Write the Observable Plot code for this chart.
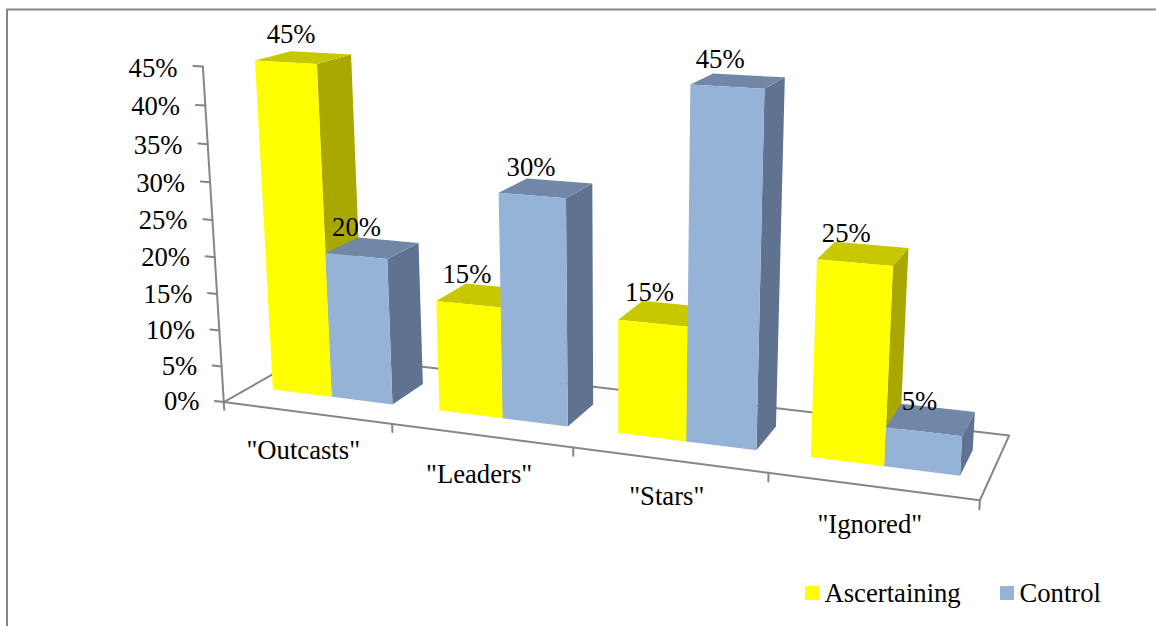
<!DOCTYPE html>
<html>
<head>
<meta charset="utf-8">
<script src="https://cdn.jsdelivr.net/npm/d3@7"></script>
<script src="https://cdn.jsdelivr.net/npm/@observablehq/plot@0.6"></script>
<style>
  html, body { margin: 0; background: #fff; }
  #chart { width: 1156px; height: 626px; overflow: hidden; }
</style>
</head>
<body>
<div id="chart"></div>
<script>
// Survey shares per group
const categories = ['"Outcasts"', '"Leaders"', '"Stars"', '"Ignored"'];
const ascertaining = [45, 15, 15, 25];
const control = [20, 30, 45, 5];
const seriesNames = ["Ascertaining", "Control"];
const valueTicks = [0, 5, 10, 15, 20, 25, 30, 35, 40, 45];

// Face shades of each series
const faceKeys = ["Ascertaining front", "Ascertaining top", "Ascertaining side", "Control front", "Control top", "Control side"];
const faceColors = ["#ffff00", "#c8c800", "#a8a800", "#95b3d7", "#7087a8", "#5f7391"];

// Pinhole camera: (category position, depth 0..1, percent) to page pixels
const camera = [
  [154.5205, 112.0571, -0.6929597, 223.2994],
  [6.93155, -18.07284, -7.531292, 401.5798],
  [-0.03522786, 0.08618574, -0.001124374, 1]
];
const project = ([X, Y, Z]) => {
  const [a, b, c] = camera;
  const w = c[0] * X + c[1] * Y + c[2] * Z + c[3];
  return [
    (a[0] * X + a[1] * Y + a[2] * Z + a[3]) / w,
    (b[0] * X + b[1] * Y + b[2] * Z + b[3]) / w
  ];
};

// Bar footprint inside a category slot and inside the floor's depth
const gap = 0.1375;
const barWidth = (1 - 2 * gap) / 2;
const depthFront = 0.3;
const depthBack = 0.7;

// Paths in world space, each flattened to rows for a line mark
const rows = (id, world, extra = {}) =>
  world.map((p) => {
    const [x, y] = project(p);
    return {id, x, y, ...extra};
  });

const floorLines = [
  ...rows("floor", [[0, 0, 0], [4, 0, 0], [4, 1, 0], [0, 1, 0], [0, 0, 0]]),
  ...rows("axis", [[0, 0, 0], [0, 0, 45]]),
  ...d3.range(5).flatMap((i) => rows(`xtick${i}`, [[i, 0, 0], [i, 0, -1.1]])),
  ...valueTicks.flatMap((v) => rows(`ytick${v}`, [[0, 0, v], [-0.055, 0, v]]))
];

// Bars go left to right, so nearer ones paint over farther ones
const faces = [];
categories.forEach((_, i) => {
  [ascertaining, control].forEach((values, s) => {
    const x0 = i + gap + s * barWidth;
    const x1 = x0 + barWidth;
    const v = values[i];
    const name = seriesNames[s];
    const face = (kind, world) => faces.push(...rows(`${i}-${s}-${kind}`, world, {shade: `${name} ${kind}`}));
    face("side", [[x1, depthFront, 0], [x1, depthBack, 0], [x1, depthBack, v], [x1, depthFront, v]]);
    face("top", [[x0, depthFront, v], [x1, depthFront, v], [x1, depthBack, v], [x0, depthBack, v]]);
    face("front", [[x0, depthFront, 0], [x1, depthFront, 0], [x1, depthFront, v], [x0, depthFront, v]]);
  });
});

// Value labels sit above each bar's top, with a small nudge per label
const labelNudge = [[-12.5, -23], [-16, -21], [-16, -21], [-15, -21], [-15, -21], [-18, -21], [-17, -20], [-11.5, -18]];
const valueLabels = categories.flatMap((_, i) =>
  [ascertaining, control].map((values, s) => {
    const X = i + gap + (s + 0.5) * barWidth;
    const [x, y] = project([X, (depthFront + depthBack) / 2, values[i]]);
    const [dx, dy] = labelNudge[i * 2 + s];
    return {x: x + dx, y: y + dy, text: `${values[i]}%`};
  })
);

// Category names hang below the front floor edge
const categoryNudge = [[-2.5, 2], [0, 2], [1, -2], [2.5, -2]];
const categoryLabels = categories.map((text, i) => {
  const [x, y] = project([i + 0.485, 0, -5.1]);
  const [dx, dy] = categoryNudge[i];
  return {x: x + dx, y: y + dy, text};
});

const valueTickLabels = valueTicks.map((v) => {
  const [x, y] = project([-0.15, 0, v]);
  return {x, y: y + 3, text: `${v}%`};
});

// Legend entries in page pixels
const legend = seriesNames.map((name, s) => ({
  name,
  x: [805, 1000][s],
  shade: `${name} front`
}));

const chartFont = "Liberation Serif";
const textSize = 26.67;
const grey = "#868686";

const plot = Plot.plot({
  width: 1156,
  height: 626,
  margin: 0,
  style: {background: "#fff", fontFamily: chartFont},
  x: {domain: [0, 1156], range: [0, 1156], axis: null},
  y: {domain: [0, 626], range: [0, 626], axis: null},
  color: {domain: faceKeys, range: faceColors},
  marks: [
    // Page border
    Plot.line([{x: 6.5, y: 626}, {x: 6.5, y: 9}, {x: 1156, y: 9}], {x: "x", y: "y", stroke: grey, strokeWidth: 2}),
    Plot.line(floorLines, {x: "x", y: "y", z: "id", stroke: grey, strokeWidth: 2}),
    Plot.line(faces, {x: "x", y: "y", z: "id", fill: "shade", stroke: null}),
    Plot.text(valueTickLabels, {x: "x", y: "y", text: "text", textAnchor: "end", fontSize: textSize, fill: "#000"}),
    Plot.text(valueLabels, {x: "x", y: "y", text: "text", fontSize: textSize, fill: "#000"}),
    Plot.text(categoryLabels, {x: "x", y: "y", text: "text", fontSize: textSize, fill: "#000"}),
    Plot.rect(legend, {x1: "x", x2: (d) => d.x + 14, y1: 586, y2: 600, fill: "shade"}),
    Plot.text(legend, {x: (d) => d.x + 19, y: 593, text: "name", textAnchor: "start", fontSize: textSize, fill: "#000"})
  ]
});
document.getElementById("chart").append(plot);
</script>
</body>
</html>
